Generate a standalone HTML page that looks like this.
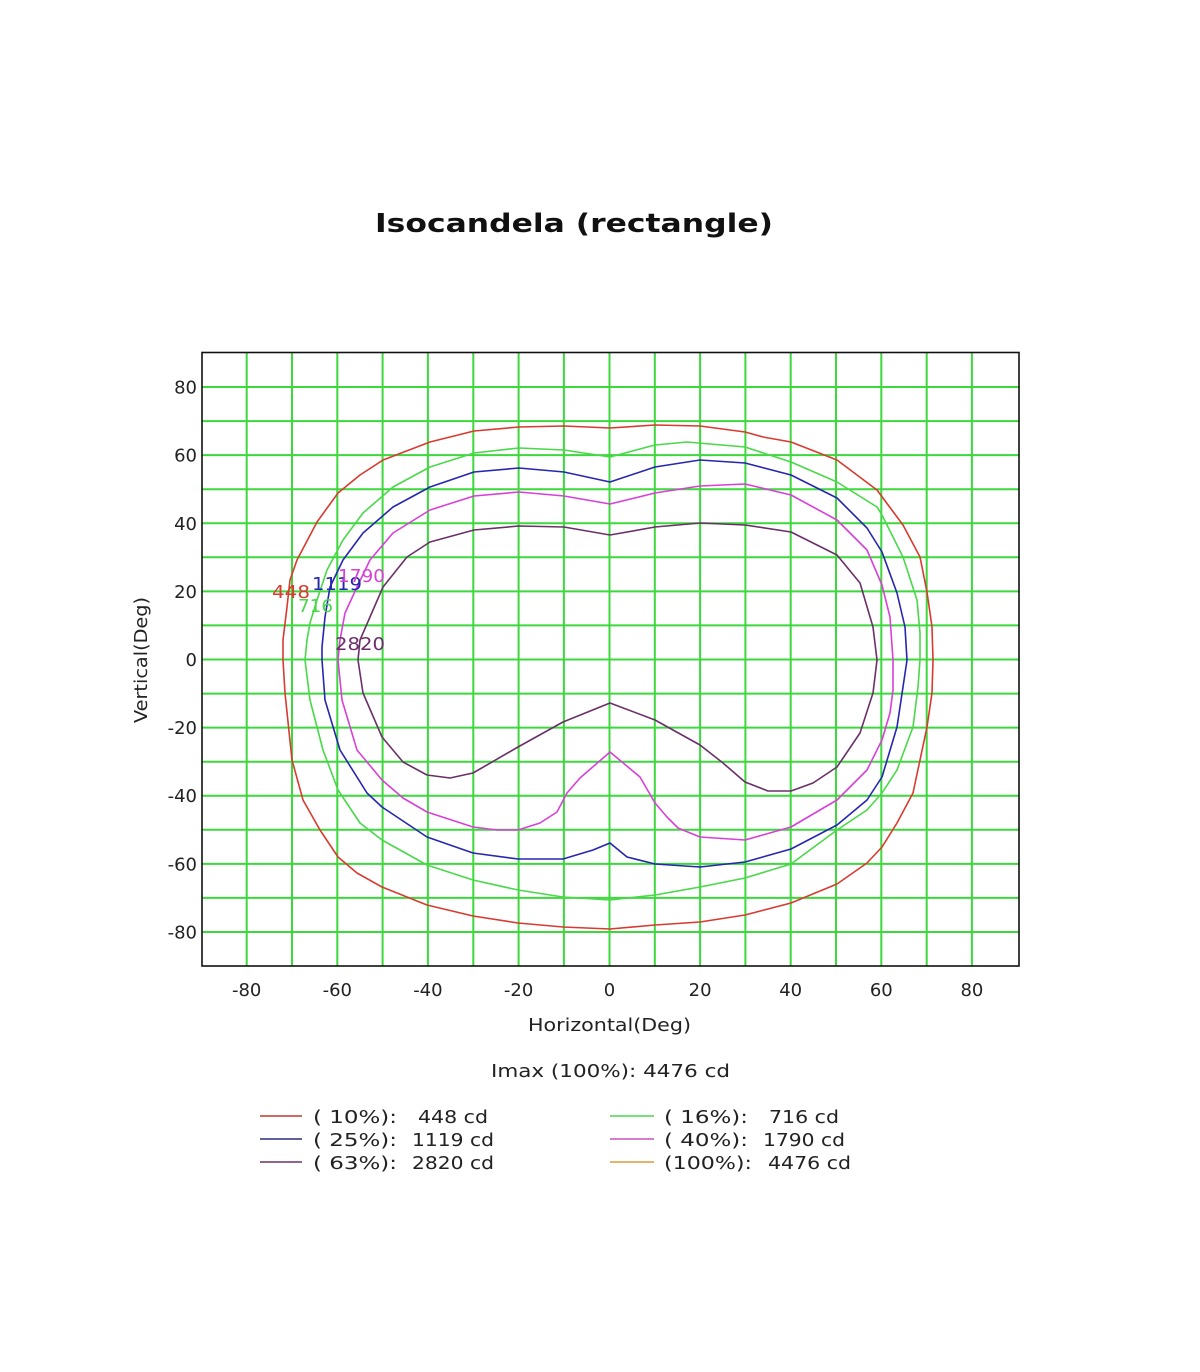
<!DOCTYPE html>
<html>
<head>
<meta charset="utf-8">
<style>
html,body{margin:0;padding:0;background:#fff;}
svg{display:block;}
text{font-family:"DejaVu Sans","Liberation Sans",sans-serif;}
</style>
</head>
<body>
<svg width="1200" height="1372" viewBox="0 0 1200 1372" xmlns="http://www.w3.org/2000/svg">
<rect x="0" y="0" width="1200" height="1372" fill="#fff"/>

<text x="574" y="232" font-size="26" font-weight="bold" text-anchor="middle" textLength="398" lengthAdjust="spacingAndGlyphs" fill="#111">Isocandela (rectangle)</text>

<!-- grid -->
<g stroke="#3cd83c" stroke-width="2">
<line x1="246.7" y1="352" x2="246.7" y2="966"/>
<line x1="292.0" y1="352" x2="292.0" y2="966"/>
<line x1="337.3" y1="352" x2="337.3" y2="966"/>
<line x1="382.6" y1="352" x2="382.6" y2="966"/>
<line x1="427.9" y1="352" x2="427.9" y2="966"/>
<line x1="473.3" y1="352" x2="473.3" y2="966"/>
<line x1="518.6" y1="352" x2="518.6" y2="966"/>
<line x1="563.9" y1="352" x2="563.9" y2="966"/>
<line x1="609.5" y1="352" x2="609.5" y2="966"/>
<line x1="654.8" y1="352" x2="654.8" y2="966"/>
<line x1="700.1" y1="352" x2="700.1" y2="966"/>
<line x1="745.4" y1="352" x2="745.4" y2="966"/>
<line x1="790.7" y1="352" x2="790.7" y2="966"/>
<line x1="836.0" y1="352" x2="836.0" y2="966"/>
<line x1="881.3" y1="352" x2="881.3" y2="966"/>
<line x1="926.7" y1="352" x2="926.7" y2="966"/>
<line x1="971.9" y1="352" x2="971.9" y2="966"/>

<line x1="202" y1="387.0" x2="1019" y2="387.0"/>
<line x1="202" y1="421.1" x2="1019" y2="421.1"/>
<line x1="202" y1="455.1" x2="1019" y2="455.1"/>
<line x1="202" y1="489.2" x2="1019" y2="489.2"/>
<line x1="202" y1="523.3" x2="1019" y2="523.3"/>
<line x1="202" y1="557.3" x2="1019" y2="557.3"/>
<line x1="202" y1="591.4" x2="1019" y2="591.4"/>
<line x1="202" y1="625.4" x2="1019" y2="625.4"/>
<line x1="202" y1="659.5" x2="1019" y2="659.5"/>
<line x1="202" y1="693.6" x2="1019" y2="693.6"/>
<line x1="202" y1="727.6" x2="1019" y2="727.6"/>
<line x1="202" y1="761.7" x2="1019" y2="761.7"/>
<line x1="202" y1="795.7" x2="1019" y2="795.7"/>
<line x1="202" y1="829.8" x2="1019" y2="829.8"/>
<line x1="202" y1="863.9" x2="1019" y2="863.9"/>
<line x1="202" y1="897.9" x2="1019" y2="897.9"/>
<line x1="202" y1="932.0" x2="1019" y2="932.0"/>
</g>

<!-- curves -->
<g fill="none" stroke-width="1.6" stroke-linejoin="round">
<polygon stroke="#d93a30" points="610,428 655,425 700,426 745,432 763,437 791,442 837,460 877,490 903,525 920,557 927,592 932,627 933,660 932,693 927,727 913,793 897,823 882,847 867,863 837,884 791,903 745,915 700,922 655,925 610,929 563,927 518,923 473,916 427,905 382,887 357,873 338,857 320,830 303,800 292,760 285,693 283,660 283,640 287,607 290,580 297,560 317,522 338,493 360,475 383,460 430,442 474,431 519,427 564,426"/>
<polygon stroke="#4ad84a" points="610,457 655,445 687,442 745,447 791,462 837,482 877,507 882,515 903,557 917,600 920,633 920,660 918,687 913,727 897,770 882,793 867,810 837,830 791,864 745,878 700,887 655,895 610,900 563,897 518,890 473,880 427,865 382,840 360,823 338,790 323,750 310,700 305,660 307,640 310,623 317,600 327,570 343,540 363,513 393,487 430,467 474,453 519,448 564,450"/>
<polygon stroke="#2626b0" points="610,482 655,467 700,460 745,463 791,475 837,498 867,528 882,552 897,593 905,627 907,660 903,687 897,727 882,777 867,800 837,825 791,849 745,862 700,867 655,864 627,857 610,843 593,850 563,859 518,859 473,853 427,837 382,807 367,793 340,750 325,700 322,660 322,647 325,617 330,587 343,560 363,533 393,507 430,487 474,472 519,468 564,472"/>
<polygon stroke="#d840d8" points="610,504 655,493 700,486 745,484 791,495 837,520 867,550 882,585 890,617 893,660 893,690 890,713 882,740 867,770 837,800 791,827 745,840 700,837 678,828 667,817 655,803 640,777 610,752 580,778 567,793 557,812 540,823 518,830 497,830 473,827 427,812 403,798 382,780 357,750 342,700 338,660 340,640 345,613 357,587 370,560 393,533 430,510 474,496 519,492 564,496"/>
<polygon stroke="#6a3068" points="610,535 655,527 700,523 745,525 791,532 837,555 860,583 873,627 877,660 873,693 860,733 837,767 813,783 791,791 768,791 745,782 723,763 700,745 655,720 610,703 563,722 518,747 473,773 450,778 427,775 403,762 382,737 363,693 358,660 360,640 370,617 383,587 407,557 430,542 474,530 519,526 564,527"/>
</g>

<!-- curve labels -->
<g font-size="18">
<text x="272" y="598" fill="#d93a30" textLength="38" lengthAdjust="spacingAndGlyphs">448</text>
<text x="298" y="612" fill="#4ad84a" textLength="35" lengthAdjust="spacingAndGlyphs">716</text>
<text x="312" y="590" fill="#2626b0" textLength="50" lengthAdjust="spacingAndGlyphs">1119</text>
<text x="338" y="582" fill="#d840d8" textLength="47" lengthAdjust="spacingAndGlyphs">1790</text>
<text x="335" y="650" fill="#6a3068" textLength="50" lengthAdjust="spacingAndGlyphs">2820</text>
</g>

<!-- frame -->
<rect x="202" y="352.5" width="817" height="613.5" fill="none" stroke="#111" stroke-width="1.6"/>

<!-- y tick labels -->
<g font-size="18" fill="#222" text-anchor="end">
<text x="197" y="393.5">80</text>
<text x="197" y="461.6">60</text>
<text x="197" y="529.8">40</text>
<text x="197" y="597.9">20</text>
<text x="197" y="666">0</text>
<text x="197" y="734.1">-20</text>
<text x="197" y="802.2">-40</text>
<text x="197" y="870.4">-60</text>
<text x="197" y="938.5">-80</text>
</g>

<!-- x tick labels -->
<g font-size="18" fill="#222" text-anchor="middle">
<text x="246.7" y="996">-80</text>
<text x="337.3" y="996">-60</text>
<text x="427.9" y="996">-40</text>
<text x="518.6" y="996">-20</text>
<text x="609.5" y="996">0</text>
<text x="700.1" y="996">20</text>
<text x="790.7" y="996">40</text>
<text x="881.3" y="996">60</text>
<text x="971.9" y="996">80</text>
</g>

<text x="609.5" y="1031" font-size="18" fill="#222" text-anchor="middle" textLength="163" lengthAdjust="spacingAndGlyphs">Horizontal(Deg)</text>
<text transform="translate(147,660) rotate(-90)" font-size="18" fill="#222" text-anchor="middle" textLength="126" lengthAdjust="spacingAndGlyphs">Vertical(Deg)</text>

<text x="610.5" y="1077" font-size="18" fill="#222" text-anchor="middle" textLength="239" lengthAdjust="spacingAndGlyphs">Imax (100%): 4476 cd</text>

<!-- legend -->
<g stroke-width="1.6">
<line x1="260" y1="1116" x2="302" y2="1116" stroke="#c0392b"/>
<line x1="260" y1="1139" x2="302" y2="1139" stroke="#2b2f80"/>
<line x1="260" y1="1162" x2="302" y2="1162" stroke="#6a3068"/>
<line x1="610" y1="1116" x2="654" y2="1116" stroke="#4ad84a"/>
<line x1="610" y1="1139" x2="654" y2="1139" stroke="#c850c8"/>
<line x1="610" y1="1162" x2="654" y2="1162" stroke="#dd9a3a"/>
</g>
<g font-size="18" fill="#222">
<text x="313" y="1123" textLength="84" lengthAdjust="spacingAndGlyphs">( 10%):</text>
<text x="418" y="1123" textLength="70" lengthAdjust="spacingAndGlyphs">448 cd</text>
<text x="313" y="1146" textLength="84" lengthAdjust="spacingAndGlyphs">( 25%):</text>
<text x="412" y="1146" textLength="82" lengthAdjust="spacingAndGlyphs">1119 cd</text>
<text x="313" y="1169" textLength="84" lengthAdjust="spacingAndGlyphs">( 63%):</text>
<text x="412" y="1169" textLength="82" lengthAdjust="spacingAndGlyphs">2820 cd</text>

<text x="664" y="1123" textLength="84" lengthAdjust="spacingAndGlyphs">( 16%):</text>
<text x="769" y="1123" textLength="70" lengthAdjust="spacingAndGlyphs">716 cd</text>
<text x="664" y="1146" textLength="84" lengthAdjust="spacingAndGlyphs">( 40%):</text>
<text x="763" y="1146" textLength="82" lengthAdjust="spacingAndGlyphs">1790 cd</text>
<text x="664" y="1169" textLength="88" lengthAdjust="spacingAndGlyphs">(100%):</text>
<text x="768" y="1169" textLength="83" lengthAdjust="spacingAndGlyphs">4476 cd</text>
</g>
</svg>
</body>
</html>
